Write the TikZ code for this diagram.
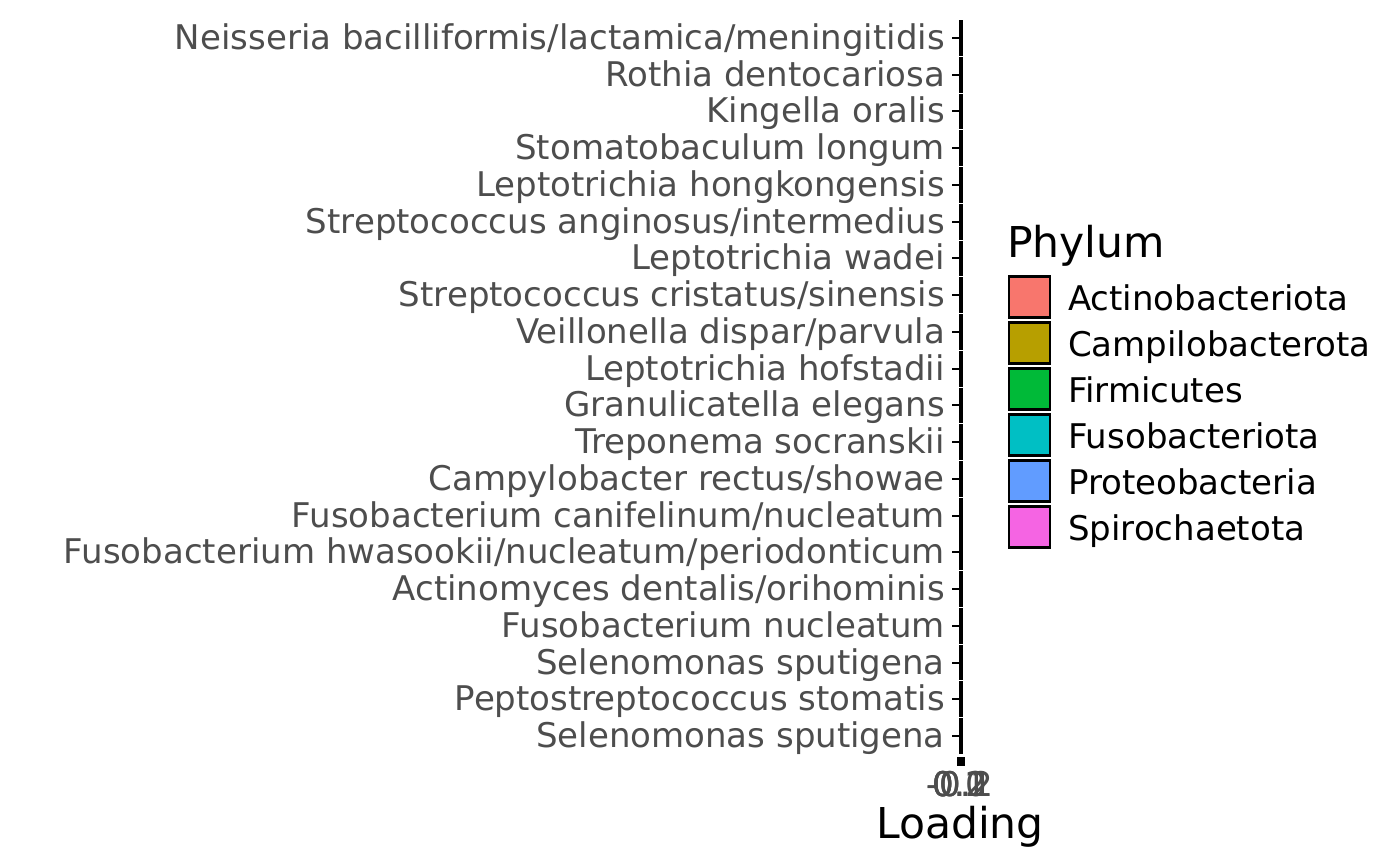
\documentclass[tikz,border=0pt]{standalone}
\usepackage{fontspec}
\setmainfont{DejaVu Sans}
\definecolor{axisgray}{HTML}{4D4D4D}
\definecolor{phyA}{HTML}{F8766D}
\definecolor{phyB}{HTML}{B79F00}
\definecolor{phyC}{HTML}{00BA38}
\definecolor{phyD}{HTML}{00BFC4}
\definecolor{phyE}{HTML}{619CFF}
\definecolor{phyF}{HTML}{F564E3}
\tikzset{
    axistext/.style={text=axisgray, inner sep=0pt, font=\fontsize{34}{40}\selectfont},
    legtext/.style={text=black, inner sep=0pt, font=\fontsize{34}{40}\selectfont},
    titletext/.style={text=black, inner sep=0pt, font=\fontsize{42.5}{50}\selectfont},
    keybox/.style={draw=black, line width=2.2pt, minimum width=41pt, minimum height=41pt, inner sep=0pt},
}
\begin{document}
\begin{tikzpicture}[x=1pt, y=-1pt]
    \useasboundingbox (0,0) rectangle (1400,865);
    % taxa on the y axis
    \foreach \i/\name in {1/{Neisseria bacilliformis/lactamica/meningitidis}, 2/{Rothia dentocariosa},
            3/{Kingella oralis}, 4/{Stomatobaculum longum}, 5/{Leptotrichia hongkongensis},
            6/{Streptococcus anginosus/intermedius}, 7/{Leptotrichia wadei},
            8/{Streptococcus cristatus/sinensis}, 9/{Veillonella dispar/parvula},
            10/{Leptotrichia hofstadii}, 11/{Granulicatella elegans}, 12/{Treponema socranskii},
            13/{Campylobacter rectus/showae}, 14/{Fusobacterium canifelinum/nucleatum},
            15/{Fusobacterium hwasookii/nucleatum/periodonticum}, 16/{Actinomyces dentalis/orihominis},
            17/{Fusobacterium nucleatum}, 18/{Selenomonas sputigena},
            19/{Peptostreptococcus stomatis}, 20/{Selenomonas sputigena}} {
        \pgfmathsetmacro{\y}{38+(\i-1)*36.74}
        \draw[black, line width=3.5pt] (961,\y-17.9) -- (961,\y+17.9);
        \draw[black, line width=2pt] (952,\y) -- (959,\y);
        \node[axistext, anchor=base east] (lab\i) at (945,\y+11.5) {\name};
    }
    % x axis ticks and labels, all at zero
    \filldraw[black] (957,757) rectangle (964,765);
    \foreach \v in {-0.2, -0.1, 0.0, 0.1, 0.2} {
        \node[axistext, anchor=base] at (960,796) {\v};
    }
    \node[titletext, anchor=base] (xtitle) at (960,838) {Loading};
    % legend
    \node[titletext, anchor=base west] (legtitle) at (1007,257) {Phylum};
    \foreach \k/\col/\name in {0/phyA/Actinobacteriota, 1/phyB/Campilobacterota, 2/phyC/Firmicutes,
            3/phyD/Fusobacteriota, 4/phyE/Proteobacteria, 5/phyF/Spirochaetota} {
        \node[keybox, fill=\col] (key\k) at (1029.5,297+46*\k) {};
        \node[legtext, anchor=base west] (leg\k) at (1068,310+46*\k) {\name};
    }
\end{tikzpicture}
\end{document}
